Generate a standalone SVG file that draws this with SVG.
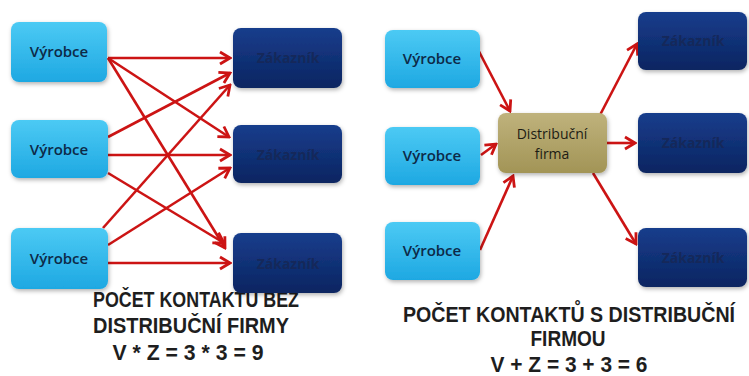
<svg xmlns="http://www.w3.org/2000/svg" width="749" height="376" viewBox="0 0 749 376">
<defs>
<linearGradient id="gV" x1="0" y1="0" x2="0" y2="1"><stop offset="0" stop-color="#4ccaf4"/><stop offset="1" stop-color="#1ea8e2"/></linearGradient>
<linearGradient id="gZ" x1="0" y1="0" x2="0" y2="1"><stop offset="0" stop-color="#173d8c"/><stop offset="1" stop-color="#0b2561"/></linearGradient>
<linearGradient id="gD" x1="0" y1="0" x2="0" y2="1"><stop offset="0" stop-color="#bfb27c"/><stop offset="1" stop-color="#a29456"/></linearGradient>
<filter id="sh" x="-10%" y="-10%" width="130%" height="140%"><feDropShadow dx="1" dy="2" stdDeviation="2" flood-color="#000" flood-opacity="0.3"/></filter>
<marker id="ah" viewBox="-12 -8 14 16" refX="0" refY="0" markerWidth="14" markerHeight="16" orient="auto" markerUnits="userSpaceOnUse">
<path d="M-10,-6 L0,0 L-10,6" fill="none" stroke="#cc1414" stroke-width="2.8" stroke-linejoin="miter"/>
</marker>
</defs>
<style>
.v{fill:url(#gV);filter:url(#sh)}
.z{fill:url(#gZ);filter:url(#sh)}
.d{fill:url(#gD);filter:url(#sh)}
.tv{font-family:"Open Sans","Liberation Sans",sans-serif;font-size:15px;font-weight:600;fill:#0d2a48;text-anchor:middle}
.tz{font-family:"Open Sans","Liberation Sans",sans-serif;font-size:14px;font-weight:700;fill:#15285a;text-anchor:middle}
.td{font-family:"Open Sans","Liberation Sans",sans-serif;font-size:14px;fill:#1c1c14;text-anchor:middle}
.cap{font-family:"Liberation Sans",sans-serif;font-weight:bold;font-size:22px;fill:#1e1e1e;text-anchor:middle}
.c line{stroke:#cc1414;stroke-width:2.6;marker-end:url(#ah)}
</style>
<g id="caption-left">
<text class="cap" x="196" y="307" textLength="206" lengthAdjust="spacingAndGlyphs">POČET KONTAKTŮ BEZ</text>
<text class="cap" x="191" y="333" textLength="196" lengthAdjust="spacingAndGlyphs">DISTRIBUČNÍ FIRMY</text>
<text class="cap" x="188" y="360" textLength="151" lengthAdjust="spacingAndGlyphs">V * Z = 3 * 3 = 9</text>
</g>
<g id="caption-right">
<text class="cap" x="569" y="322" textLength="332" lengthAdjust="spacingAndGlyphs">POČET KONTAKTŮ S DISTRIBUČNÍ</text>
<text class="cap" x="568" y="346" textLength="75" lengthAdjust="spacingAndGlyphs">FIRMOU</text>
<text class="cap" x="569" y="372" textLength="157" lengthAdjust="spacingAndGlyphs">V + Z = 3 + 3 = 6</text>
</g>
<g id="connectors" class="c">
<line x1="108" y1="58" x2="230" y2="58"/>
<line x1="108" y1="58" x2="229" y2="137"/>
<line x1="108" y1="58" x2="225" y2="248"/>
<line x1="108" y1="137" x2="230" y2="73"/>
<line x1="108" y1="155" x2="230" y2="155"/>
<line x1="108" y1="173" x2="224" y2="243"/>
<line x1="103" y1="228" x2="230" y2="85"/>
<line x1="108" y1="245" x2="230" y2="168"/>
<line x1="108" y1="263" x2="230" y2="263"/>
<line x1="473" y1="40" x2="510" y2="111"/>
<line x1="481" y1="155" x2="496" y2="144"/>
<line x1="480" y1="250" x2="513" y2="176"/>
<line x1="600" y1="115" x2="637" y2="44"/>
<line x1="607" y1="143" x2="635" y2="143"/>
<line x1="593" y1="173" x2="636" y2="244"/>
</g>
<g id="v1"><rect class="v" x="11" y="22" width="96" height="60" rx="8"/><text class="tv" x="59" y="57">Výrobce</text></g>
<g id="v2"><rect class="v" x="11" y="120" width="97" height="58" rx="8"/><text class="tv" x="59" y="155">Výrobce</text></g>
<g id="v3"><rect class="v" x="11" y="228" width="97" height="61" rx="8"/><text class="tv" x="59" y="264">Výrobce</text></g>
<g id="z1"><rect class="z" x="233" y="28" width="109" height="60" rx="8"/><text class="tz" x="288" y="63">Zákazník</text></g>
<g id="z2"><rect class="z" x="233" y="125" width="109" height="58" rx="8"/><text class="tz" x="288" y="160">Zákazník</text></g>
<g id="z3"><rect class="z" x="233" y="233" width="109" height="60" rx="8"/><text class="tz" x="288" y="269">Zákazník</text></g>
<g id="rv1"><rect class="v" x="385" y="30" width="95" height="58" rx="8"/><text class="tv" x="432" y="64">Výrobce</text></g>
<g id="rv2"><rect class="v" x="385" y="127" width="95" height="58" rx="8"/><text class="tv" x="432" y="161">Výrobce</text></g>
<g id="rv3"><rect class="v" x="385" y="222" width="95" height="58" rx="8"/><text class="tv" x="432" y="256">Výrobce</text></g>
<g id="df"><rect class="d" x="498" y="113" width="109" height="60" rx="8"/><text class="td" x="552" y="139">Distribuční</text><text class="td" x="552" y="159">firma</text></g>
<g id="rz1"><rect class="z" x="638" y="12" width="109" height="58" rx="8"/><text class="tz" x="693" y="46">Zákazník</text></g>
<g id="rz2"><rect class="z" x="638" y="113" width="109" height="60" rx="8"/><text class="tz" x="693" y="148">Zákazník</text></g>
<g id="rz3"><rect class="z" x="638" y="228" width="109" height="59" rx="8"/><text class="tz" x="693" y="263">Zákazník</text></g>
</svg>
